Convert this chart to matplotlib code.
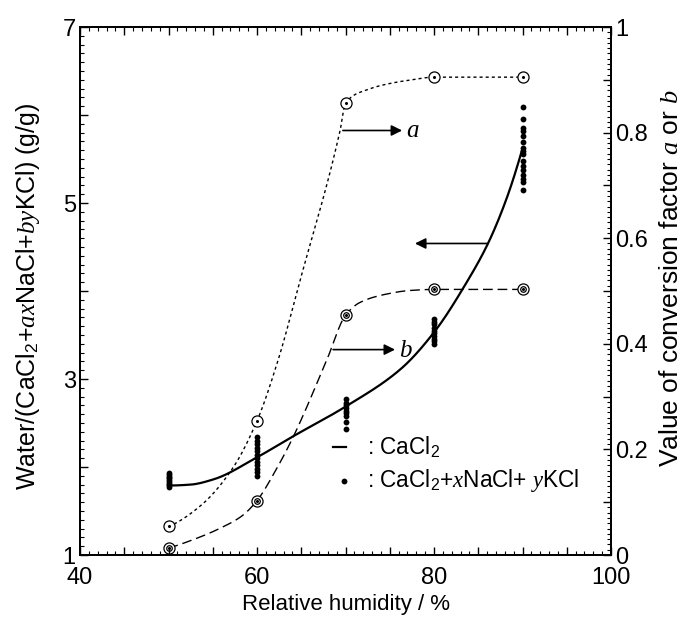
import numpy as np
import matplotlib
matplotlib.use("Agg")
import matplotlib.pyplot as plt
from matplotlib.ticker import MultipleLocator, FuncFormatter

plt.rcParams['font.family'] = ['Liberation Sans', 'DejaVu Sans']
plt.rcParams['mathtext.fontset'] = 'custom'
plt.rcParams['mathtext.rm'] = 'Liberation Sans'
plt.rcParams['mathtext.it'] = 'Liberation Serif:italic'

# ---- data ----
rh = [50, 60, 70, 80, 90]                       # measured relative humidity (%)
a_vals = [0.054, 0.254, 0.856, 0.905, 0.905]    # conversion factor a (right axis)
b_vals = [0.013, 0.103, 0.454, 0.503, 0.503]    # conversion factor b (right axis)

# points
a_curve_x = [50, 53.6, 57.2, 60, 62.4, 64.9, 69.4, 70, 72.4, 75, 77.5, 80, 90]
a_curve_y = [0.054, 0.093, 0.163, 0.254, 0.37, 0.522, 0.805, 0.856, 0.881, 0.893, 0.900, 0.905, 0.905]
b_curve_x = [50, 53.4, 56.0, 58.3, 60, 62.2, 64.1, 67.9, 70, 71.6, 74.3, 77.3, 80, 90]
b_curve_y = [0.013, 0.033, 0.052, 0.074, 0.103, 0.163, 0.224, 0.37, 0.454, 0.478, 0.493, 0.501, 0.503, 0.503]

# CaCl2 curve (left axis)
cacl2_x = [50.2, 52.5, 55.1, 60.0, 64.1, 69.9, 76.2, 80.0, 83.7, 86.1, 88.2, 90.0]
cacl2_y = [1.79, 1.80, 1.86, 2.11, 2.35, 2.68, 3.11, 3.53, 4.10, 4.54, 5.05, 5.62]

# CaCl2 + xNaCl + yKCl data points (left axis)
mix50 = [1.77, 1.79, 1.81, 1.83, 1.85, 1.87, 1.89, 1.91, 1.93]
mix60 = [1.90, 1.94, 1.98, 2.02, 2.06, 2.10, 2.14, 2.18, 2.22, 2.26, 2.30, 2.34]
mix70 = [2.43, 2.51, 2.58, 2.61, 2.64, 2.67, 2.70, 2.73, 2.77]
mix80 = [3.40, 3.43, 3.46, 3.49, 3.52, 3.55, 3.58, 3.62, 3.65, 3.68]
mix90 = [5.15, 5.24, 5.27, 5.32, 5.37, 5.42, 5.48, 5.56, 5.59, 5.63, 5.69,
         5.76, 5.82, 5.85, 5.95, 6.09]


def pchip(x, y, xn):
    x = np.asarray(x, float); y = np.asarray(y, float)
    h = np.diff(x); dl = np.diff(y) / h
    n = len(x); d = np.zeros(n)
    for k in range(1, n - 1):
        if dl[k - 1] * dl[k] > 0:
            w1 = 2 * h[k] + h[k - 1]; w2 = h[k] + 2 * h[k - 1]
            d[k] = (w1 + w2) / (w1 / dl[k - 1] + w2 / dl[k])
    def endslope(h0, h1, d0, d1):
        s = ((2 * h0 + h1) * d0 - h0 * d1) / (h0 + h1)
        if np.sign(s) != np.sign(d0):
            s = 0.0
        elif np.sign(d0) != np.sign(d1) and abs(s) > abs(3 * d0):
            s = 3 * d0
        return s
    d[0] = endslope(h[0], h[1], dl[0], dl[1])
    d[-1] = endslope(h[-1], h[-2], dl[-1], dl[-2])
    xn = np.asarray(xn, float)
    idx = np.clip(np.searchsorted(x, xn) - 1, 0, n - 2)
    t = (xn - x[idx]) / h[idx]
    h00 = 2 * t**3 - 3 * t**2 + 1; h10 = t**3 - 2 * t**2 + t
    h01 = -2 * t**3 + 3 * t**2; h11 = t**3 - t**2
    return h00 * y[idx] + h10 * h[idx] * d[idx] + h01 * y[idx + 1] + h11 * h[idx] * d[idx + 1]


W, H = 687, 619
fig = plt.figure(figsize=(W / 100, H / 100), dpi=100)
L, R, T, B = 80, 611, 27, 555
ax = fig.add_axes([L / W, (H - B) / H, (R - L) / W, (B - T) / H])
ax2 = ax.twinx()

ax.set_xlim(40, 100)
ax.set_ylim(1, 7)
ax2.set_ylim(0, 1)

# right-axis curves
xa = np.linspace(a_curve_x[0], a_curve_x[-1], 400)
ax2.plot(xa, pchip(a_curve_x, a_curve_y, xa), color='k', lw=1.0,
         linestyle=(0, (2.2, 2.2)), zorder=2)
xb = np.linspace(b_curve_x[0], b_curve_x[-1], 400)
ax2.plot(xb, pchip(b_curve_x, b_curve_y, xb), color='k', lw=1.0,
         linestyle=(0, (7, 3.5)), zorder=2)
ax2.plot(rh, a_vals, 'o', ms=8, mfc='white', mec='k', mew=0.9, zorder=3)
ax2.plot(rh, a_vals, 'o', ms=1.2, color='k', zorder=4)
ax2.plot(rh, b_vals, 'o', ms=8, mfc='white', mec='k', mew=0.9, zorder=3)
ax2.plot(rh, b_vals, 'o', ms=4, mfc='white', mec='k', mew=0.9, zorder=4)
ax2.plot(rh, b_vals, 'o', ms=1.2, color='k', zorder=5)

# left-axis curve and points
xc = np.linspace(cacl2_x[0], cacl2_x[-1], 400)
ax.plot(xc, pchip(cacl2_x, cacl2_y, xc), color='k', lw=1.6, zorder=3)
for xv, vals in zip(rh, [mix50, mix60, mix70, mix80, mix90]):
    ax.plot([xv] * len(vals), vals, 'o', ms=4.2, color='k', mew=0, zorder=4)

ax.set_zorder(ax2.get_zorder() + 1)
ax.patch.set_visible(False)

# arrows and annotations
arrow = dict(arrowstyle='-|>', color='k', lw=1.2, mutation_scale=16,
             shrinkA=0, shrinkB=0)
ax2.annotate('', xy=(76.4, 0.804), xytext=(69.7, 0.804), arrowprops=arrow)
ax2.text(76.8, 0.804, '$a$', fontsize=18, va='center', ha='left')
ax2.annotate('', xy=(75.6, 0.389), xytext=(68.6, 0.389), arrowprops=arrow)
ax2.text(76.0, 0.389, '$b$', fontsize=18, va='center', ha='left')
ax.annotate('', xy=(77.85, 4.54), xytext=(86.1, 4.54), arrowprops=arrow)

# legend-like labels
ax.plot([68.6, 70.1], [2.224, 2.224], color='k', lw=1.6)
ax.text(72.4, 2.224, ': CaCl$_2$', fontsize=16.3, va='center', ha='left')
ax.plot([69.8], [1.844], 'o', ms=4.2, color='k', mew=0)
ax.text(72.4, 1.844, ': CaCl$_2$+$x$NaCl+ $y$KCl', fontsize=16.3, va='center', ha='left')

# ticks
ax.xaxis.set_major_locator(MultipleLocator(5))
ax.xaxis.set_minor_locator(MultipleLocator(1))
ax.xaxis.set_major_formatter(FuncFormatter(lambda v, p: f'{int(round(v))}' if round(v) % 20 == 0 else ''))
ax.yaxis.set_major_locator(MultipleLocator(1))
ax.yaxis.set_minor_locator(MultipleLocator(0.1))
ax.yaxis.set_major_formatter(FuncFormatter(lambda v, p: f'{int(round(v))}' if round(v) % 2 == 1 else ''))
ax2.yaxis.set_major_locator(MultipleLocator(0.1))
ax2.yaxis.set_minor_locator(MultipleLocator(0.01))
ax2.yaxis.set_major_formatter(FuncFormatter(lambda v, p: ('0' if abs(v) < 1e-9 else ('1' if abs(v - 1) < 1e-9 else f'{v:.1f}')) if round(v * 10) % 2 == 0 else ''))

ax.tick_params(axis='both', which='major', direction='in', length=6, width=1.0,
               labelsize=17, top=True, right=False, pad=3)
ax.tick_params(axis='x', which='major', pad=8.5)
ax.tick_params(axis='both', which='minor', direction='in', length=3, width=0.8,
               top=True, right=False)
ax2.tick_params(axis='y', which='major', direction='in', length=6, width=1.0,
                labelsize=17, pad=3)
ax2.tick_params(axis='y', which='minor', direction='in', length=3, width=0.8)

for a_ in (ax, ax2):
    for s in a_.spines.values():
        s.set_linewidth(1.3)

ax.set_xlabel('Relative humidity / %', fontsize=16)
ax.set_ylabel('Water/(CaCl$_2$+$ax$NaCl+$by$KCl) (g/g)', fontsize=18)
ax2.set_ylabel('Value of conversion factor $a$ or $b$', fontsize=19)
ax.xaxis.set_label_coords(0.5, -0.074)
ax.yaxis.set_label_coords(-0.0716, 0.49)
ax2.yaxis.set_label_coords(1.0904, 0.525)

fig.savefig('out.png', dpi=100)
